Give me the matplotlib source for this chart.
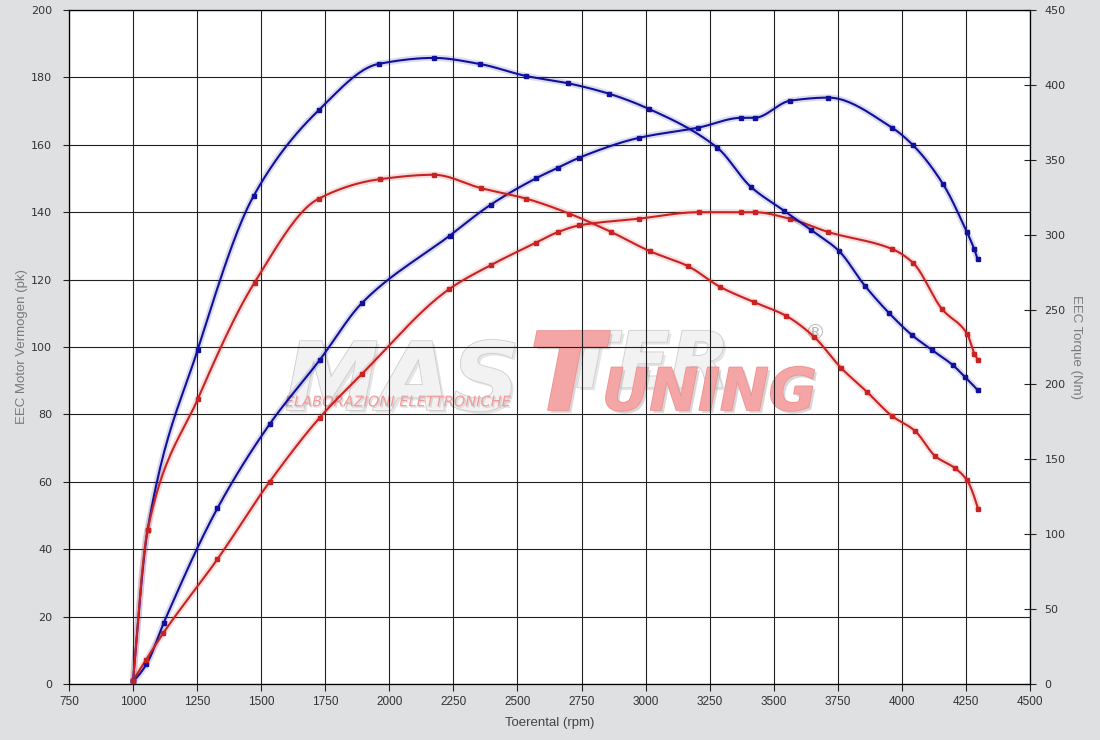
import numpy as np
import matplotlib.pyplot as plt
import matplotlib.patheffects as pe

# power curves (pk), left axis
rpm_pow_blue = [1000, 1052, 1120, 1329, 1533, 1728, 1895, 2235, 2395, 2571, 2658, 2742,
                2976, 3206, 3374, 3425, 3565, 3713, 3961, 4043, 4160, 4253, 4282, 4295]
pow_blue = [1, 5.8, 18.2, 52.1, 77.1, 96.1, 113.2, 133, 142.2, 150, 153.2, 156.2,
            162.1, 165.1, 168, 168, 173.1, 174, 165.1, 159.9, 148.4, 134.2, 129.1, 126.1]

rpm_pow_red = [1000, 1050, 1117, 1329, 1533, 1728, 1893, 2232, 2396, 2571, 2658, 2742,
               2976, 3208, 3374, 3425, 3565, 3713, 3961, 4043, 4157, 4254, 4283, 4297]
pow_red = [1, 7.1, 15, 37, 60, 79, 92, 117.1, 124.3, 130.9, 134.1, 136.1,
           138.1, 140, 140, 140, 138, 134.1, 129.1, 125, 111.2, 104, 98, 96.2]

# torque curves (Nm), right axis
rpm_trq_blue = [1000, 1057, 1252, 1471, 1724, 1958, 2173, 2352, 2532, 2699, 2859, 3012,
                3280, 3410, 3540, 3647, 3755, 3855, 3948, 4039, 4117, 4198, 4246, 4297]
trq_blue = [2, 103, 223, 326, 383, 414, 418, 414, 406, 401, 394, 384,
            358, 332, 316, 303, 289, 266, 248, 233, 223, 213, 205, 196]

rpm_trq_red = [1000, 1057, 1252, 1474, 1724, 1962, 2173, 2359, 2535, 2703, 2863, 3016,
               3165, 3292, 3422, 3546, 3656, 3763, 3864, 3961, 4051, 4131, 4208, 4254, 4297]
trq_red = [2, 103, 190, 268, 324, 337, 340, 331, 324, 314, 302, 289,
           279, 265, 255, 246, 232, 211, 195, 179, 169, 152, 144, 136, 117]

BLUE = "#10109a"
RED = "#c82222"
NARROW = ["Liberation Sans", "DejaVu Sans"]


def pchip_slopes(x, y):
    h = np.diff(x)
    d = np.diff(y) / h
    m = np.zeros_like(y)
    for k in range(1, len(y) - 1):
        if d[k-1] * d[k] > 0:
            w1 = 2*h[k] + h[k-1]
            w2 = h[k] + 2*h[k-1]
            m[k] = (w1 + w2) / (w1 / d[k-1] + w2 / d[k])
    for k, (i, j) in enumerate([(0, 1), (-1, -2)]):
        hi, hj = h[i], h[j]
        di, dj = d[i], d[j]
        e = ((2*hi + hj)*di - hi*dj) / (hi + hj)
        if np.sign(e) != np.sign(di):
            e = 0.0
        elif np.sign(di) != np.sign(dj) and abs(e) > abs(3*di):
            e = 3*di
        m[0 if k == 0 else -1] = e
    return h, m


def smooth(x, y, n=24):
    x = np.asarray(x, float)
    y = np.asarray(y, float)
    h, m = pchip_slopes(x, y)
    xs, ys = [], []
    t = np.linspace(0, 1, n, endpoint=False)
    h00 = 2*t**3 - 3*t**2 + 1
    h10 = t**3 - 2*t**2 + t
    h01 = -2*t**3 + 3*t**2
    h11 = t**3 - t**2
    for i in range(len(h)):
        xs.append(x[i] + t * h[i])
        ys.append(h00*y[i] + h10*h[i]*m[i] + h01*y[i+1] + h11*h[i]*m[i+1])
    xs.append([x[-1]])
    ys.append([y[-1]])
    return np.concatenate(xs), np.concatenate(ys)


def curve(a, x, y, c):
    xs, ys = smooth(x, y)
    a.plot(xs, ys, color=c, lw=4.5, alpha=0.15, solid_capstyle="round", zorder=3)
    a.plot(xs, ys, color=c, lw=1.5, zorder=4)
    a.plot(x, y, "s", color=c, ms=3, zorder=5)


fig = plt.figure(figsize=(11, 7.4), dpi=100, facecolor="#dfe0e2")
ax = fig.add_axes([0.0627, 0.0757, 0.8737, 0.9108])
ax.set_facecolor("white")
ax.set_xlim(750, 4500)
ax.set_ylim(0, 200)
ax.set_xticks(np.arange(750, 4501, 250))
ax.set_yticks(np.arange(0, 201, 20))
ax.grid(True, color="#222222", lw=0.8, zorder=1.5)
for s in ax.spines.values():
    s.set_color("#222222")
    s.set_linewidth(0.9)
ax.tick_params(axis="y", direction="out", length=4, labelsize=8, colors="#222222", labelcolor="#333333", pad=8)
ax.tick_params(axis="x", direction="out", length=5, colors="#222222", labelcolor="#333333", pad=4)
for t in ax.get_xticklabels():
    t.set_family(NARROW)
    t.set_fontsize(8.5)
ax.set_xlabel("Toerental (rpm)", family=NARROW, fontsize=9.5, color="#444444", labelpad=6)
ax.set_ylabel("EEC Motor Vermogen (pk)", family=NARROW, fontsize=9.5, color="#7a7a7a", labelpad=2)

# watermark
grey = dict(color="#f2f2f2", fontweight="bold", fontstyle="italic", zorder=1,
            path_effects=[pe.SimplePatchShadow(offset=(2, -2), shadow_rgbFace="#cccccc", alpha=0.5),
                          pe.withStroke(linewidth=1.2, foreground="#cdcdcd")])
pink = dict(color="#f4a6a6", fontweight="bold", fontstyle="italic", zorder=1.2,
            path_effects=[pe.SimplePatchShadow(offset=(2, -2), shadow_rgbFace="#b0b0b0", alpha=0.5),
                          pe.withStroke(linewidth=1.2, foreground="#ec9090")])
ax.text(1592, 81.3, "MAS", fontsize=68, **grey)
ax.text(2680, 88, "TER", fontsize=56, **grey)
ax.text(2545, 81.3, "T", fontsize=78, **pink)
ax.text(2830, 81.3, "UNING", fontsize=42, **pink)
ax.text(1592, 82.4, "ELABORAZIONI ELETTRONICHE", fontsize=10.5, fontstyle="italic",
        color="#f09a9a", zorder=1.2,
        path_effects=[pe.SimplePatchShadow(offset=(1, -1), shadow_rgbFace="#bbbbbb", alpha=0.5),
                      pe.Normal()])
ax.text(3620, 102.5, "®", fontsize=15, color="#bbbbbb", zorder=1)

curve(ax, rpm_pow_blue, pow_blue, BLUE)
curve(ax, rpm_pow_red, pow_red, RED)

ax2 = ax.twinx()
ax2.set_ylim(0, 450)
ax2.set_yticks(np.arange(0, 451, 50))
ax2.tick_params(axis="y", direction="inout", length=9, labelsize=8, colors="#222222", labelcolor="#333333", pad=6)
ax2.set_ylabel("EEC Torque (Nm)", family=NARROW, fontsize=9.5, color="#7a7a7a", rotation=270, labelpad=12)
curve(ax2, rpm_trq_blue, trq_blue, BLUE)
curve(ax2, rpm_trq_red, trq_red, RED)

plt.savefig("out.png", dpi=100, facecolor=fig.get_facecolor())
